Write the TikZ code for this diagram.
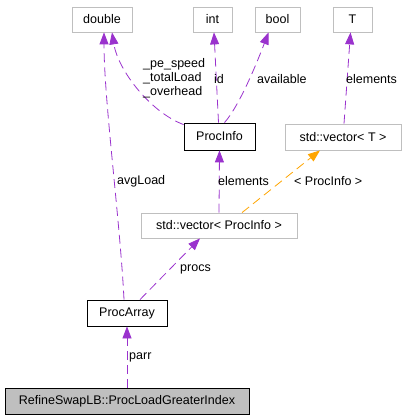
\documentclass[tikz,border=0pt]{standalone}
\usepackage{fontspec}
\setmainfont{Liberation Sans}
\usetikzlibrary{arrows.meta}
\definecolor{usecol}{HTML}{9A32CD}
\definecolor{tmplcol}{HTML}{FFA500}
\definecolor{boxgray}{HTML}{BFBFBF}
\begin{document}
\begin{tikzpicture}[x=1pt,y=-1pt,
  txt/.style={font=\fontsize{12.5}{14}\selectfont},
  box/.style={txt, draw=boxgray, line width=0.8pt, inner sep=0pt},
  cbox/.style={box, draw=black},
  use/.style={draw=usecol, dash pattern=on 9pt off 5pt, line width=0.8pt, -{Triangle[length=12pt,width=9pt]}},
  tmpl/.style={use, draw=tmplcol},
  lbl/.style={txt, anchor=west, inner sep=0pt}]
\useasboundingbox (0,0) rectangle (405,419);
% nodes
\node[box, minimum width=60pt, minimum height=25pt] (dbl) at (102,19.5) {double};
\node[box, minimum width=39pt, minimum height=25pt] (int) at (212.5,19.5) {int};
\node[box, minimum width=45pt, minimum height=25pt] (bool) at (277.5,19.5) {bool};
\node[box, minimum width=39pt, minimum height=25pt] (T) at (352.5,19.5) {T};
\node[cbox, minimum width=71pt, minimum height=27pt] (pi) at (219.5,136.5) {ProcInfo};
\node[box, minimum width=116pt, minimum height=26pt] (vt) at (343,137) {std::vector\textless{} T \textgreater};
\node[box, minimum width=156pt, minimum height=25pt] (vpi) at (219,225.5) {std::vector\textless{} ProcInfo \textgreater};
\node[cbox, minimum width=80pt, minimum height=26pt] (pa) at (127,313) {ProcArray};
\node[cbox, fill=boxgray, minimum width=244pt, minimum height=26pt] (rs) at (127,401) {RefineSwapLB::ProcLoadGreaterIndex};
% edges
\draw[use] (rs.north) -- (pa.south);
\node[lbl] (lparr) at (129,357) {parr};
\draw[use] ([xshift=13pt]pa.north) -- ([xshift=-19pt]vpi.south);
\node[lbl] (lprocs) at (180,269) {procs};
\draw[use] ([xshift=-3pt]pa.north) .. controls (120,220) and (104,100) .. ([xshift=2pt]dbl.south);
\node[lbl] (lavg) at (117,181) {avgLoad};
\draw[use] (vpi.north) -- (pi.south);
\node[lbl] (lel1) at (218,181) {elements};
\draw[tmpl] ([xshift=23pt]vpi.north) -- ([xshift=-23pt]vt.south);
\node[lbl] (ltp) at (294,181) {\textless{} ProcInfo \textgreater};
\draw[use] ([xshift=1pt]vt.north) -- ([xshift=-2pt]T.south);
\node[lbl] (lel2) at (346,79) {elements};
\draw[use] ([yshift=-2pt]pi.north west) .. controls (150,112) and (118,70) .. ([xshift=10pt]dbl.south);
\node[lbl, align=left] (lpe) at (143,78) {\_pe\_speed\\\_totalLoad\\\_overhead};
\draw[use] ([xshift=-1pt]pi.north) -- ([xshift=1.5pt]int.south);
\node[lbl] (lid) at (214,79) {id};
\draw[use] ([xshift=5pt]pi.north) .. controls (240,105) and (258,60) .. ([xshift=-9pt]bool.south);
\node[lbl] (lav) at (257,79) {available};
\end{tikzpicture}
\end{document}
